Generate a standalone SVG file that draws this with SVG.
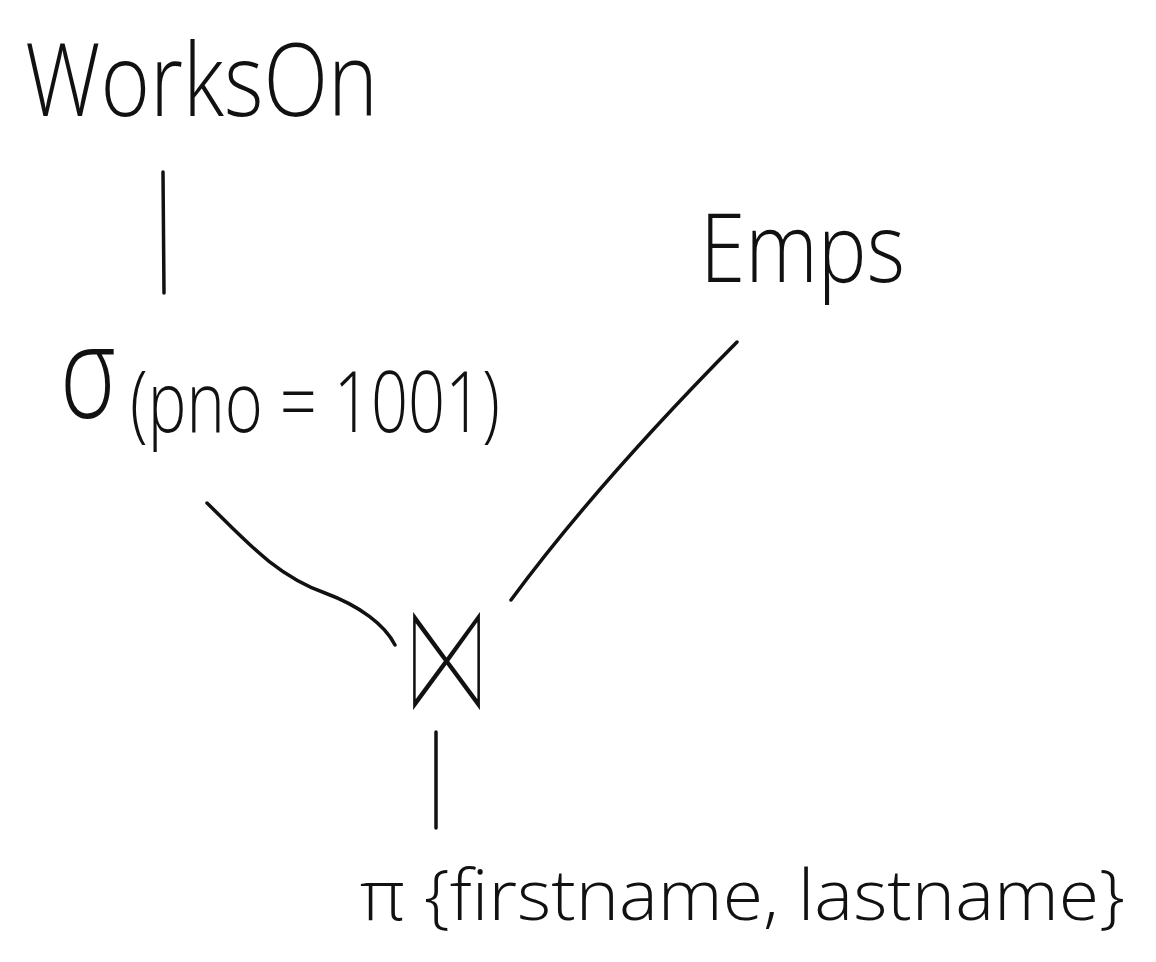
<svg xmlns="http://www.w3.org/2000/svg" width="1156" height="962" viewBox="0 0 1156 962">
<style>
.t{font-family:"Open Sans","Liberation Sans","DejaVu Sans",sans-serif;font-weight:300;fill:#111;}
.c{fill:none;stroke:#111;stroke-width:3.5;stroke-linecap:round;}
</style>
<rect width="1156" height="962" fill="#fff"/>
<g id="worksOn"><text class="t" x="25" y="116" font-size="102" textLength="353" lengthAdjust="spacingAndGlyphs">WorksOn</text></g>
<g id="select"><text class="t" x="60" y="418" font-size="130" textLength="56" lengthAdjust="spacingAndGlyphs">σ</text><text class="t" x="130" y="432" font-size="85" textLength="370" lengthAdjust="spacingAndGlyphs">(pno = 1001)</text></g>
<g id="emps"><text class="t" x="700" y="282" font-size="95" textLength="205" lengthAdjust="spacingAndGlyphs">Emps</text></g>
<g id="join"><text class="t" transform="translate(447,714) scale(0.7,1.3)" x="0" y="0" font-size="130" text-anchor="middle" stroke="#fff" stroke-width="7" style="font-family:'DejaVu Sans',sans-serif">⋈</text></g>
<g id="project"><text class="t" x="360" y="920" font-size="70" textLength="765" lengthAdjust="spacingAndGlyphs">π {firstname, lastname}</text></g>
<g id="connectors">
<path class="c" d="M163,172 L164,293"/>
<path class="c" d="M207,503 C245,540 275,575 325,593 C360,606 385,625 395,645"/>
<path class="c" d="M737,342 C650,430 570,520 511,600"/>
<path class="c" d="M436,732 L436,828"/>
</g>
</svg>
